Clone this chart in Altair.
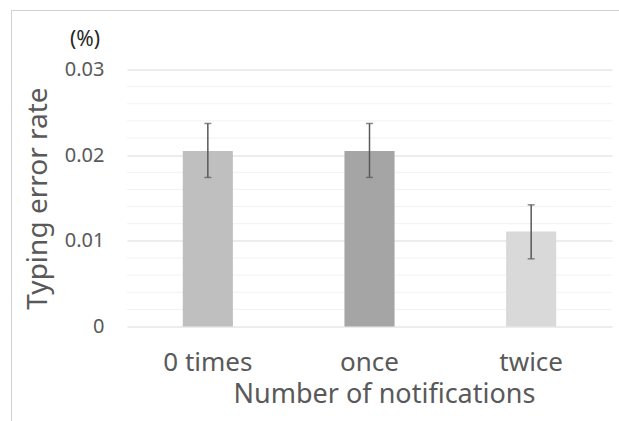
import altair as alt
import pandas as pd

categories = ["0 times", "once", "twice"]
values = [0.0205, 0.0205, 0.0111]
err_low = [0.0174, 0.0174, 0.0079]
err_high = [0.0237, 0.0237, 0.0142]
bar_colors = ["#BFBFBF", "#A5A5A5", "#D9D9D9"]
minor_grid = [0.002, 0.004, 0.006, 0.008, 0.012, 0.014, 0.016, 0.018, 0.022, 0.024, 0.026, 0.028]
major_ticks = [0, 0.01, 0.02, 0.03]

df = pd.DataFrame({"cat": categories, "val": values, "lo": err_low, "hi": err_high, "color": bar_colors})
grid_df = pd.DataFrame({"g": minor_grid})

FONT = "Noto Sans"
TXT = "#595959"

xscale = alt.Scale(domain=categories, paddingInner=0.69, paddingOuter=0.345)
yscale = alt.Scale(domain=[0, 0.03], nice=False)

minor = alt.Chart(grid_df).mark_rule(color="#F2F2F2", strokeWidth=1).encode(
    y=alt.Y("g:Q", scale=yscale)
)

bars = alt.Chart(df).mark_bar().encode(
    x=alt.X("cat:N", scale=xscale, sort=categories,
            axis=alt.Axis(title="Number of notifications", labelAngle=0, ticks=False, tickSize=0,
                          domain=False, grid=False, labelFontSize=26, labelColor=TXT, labelFont=FONT,
                          labelBaseline="alphabetic", labelPadding=44,
                          titleFontSize=27, titleColor=TXT, titleFont=FONT, titleFontWeight="normal",
                          titleBaseline="alphabetic", titleX=257, titleY=76, titleAlign="center")),
    y=alt.Y("val:Q", scale=yscale,
            axis=alt.Axis(title="Typing error rate", values=major_ticks, format="~g",
                          ticks=False, tickSize=0, domain=False, grid=True, gridColor="#D9D9D9",
                          labelFontSize=20, labelColor=TXT, labelFont=FONT, labelPadding=23,
                          titleFontSize=28, titleColor=TXT, titleFont=FONT, titleFontWeight="normal",
                          titleAngle=270, titleBaseline="alphabetic", titleX=-81, titleY=128.5,
                          titleAlign="center")),
    color=alt.Color("color:N", scale=None),
)

err = alt.Chart(df).mark_rule(color="#595959", strokeWidth=1.5).encode(
    x=alt.X("cat:N", scale=xscale, sort=categories),
    y=alt.Y("lo:Q", scale=yscale),
    y2="hi:Q",
)
cap_lo = alt.Chart(df).mark_tick(color="#595959", thickness=1.5, size=7, orient="horizontal").encode(
    x=alt.X("cat:N", scale=xscale, sort=categories),
    y=alt.Y("lo:Q", scale=yscale),
)
cap_hi = alt.Chart(df).mark_tick(color="#595959", thickness=1.5, size=7, orient="horizontal").encode(
    x=alt.X("cat:N", scale=xscale, sort=categories),
    y=alt.Y("hi:Q", scale=yscale),
)

unit = alt.Chart(pd.DataFrame({"t": ["(%)"]})).mark_text(
    font=FONT, fontSize=21, color="#262626", align="center", baseline="middle"
).encode(text="t:N", x=alt.value(-42), y=alt.value(-30))

frame_left = alt.Chart(pd.DataFrame({"a": [0]})).mark_rule(color="#D0D0D0", strokeWidth=1).encode(
    x=alt.value(-115.5), y=alt.value(-59), y2=alt.value(400)
)
frame_top = alt.Chart(pd.DataFrame({"a": [0]})).mark_rule(color="#D0D0D0", strokeWidth=1).encode(
    x=alt.value(-115.5), x2=alt.value(600), y=alt.value(-59)
)

chart = alt.layer(minor, bars, err, cap_lo, cap_hi, unit, frame_left, frame_top).properties(
    width=485, height=257,
    background="white",
    autosize=alt.AutoSizeParams(type="none"),
    padding={"left": 127, "top": 69.5, "right": 7, "bottom": 94.5},
).configure_view(stroke=None, strokeWidth=0)

chart.save("out.html", embed_options={"renderer": "svg", "actions": False})
